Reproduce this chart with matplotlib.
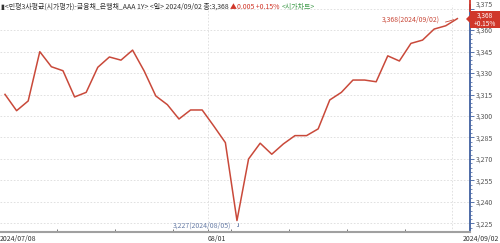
import matplotlib
matplotlib.use("Agg")
import matplotlib.pyplot as plt
from matplotlib.ticker import FixedLocator

plt.rcParams['font.family'] = ['Noto Sans CJK KR', 'DejaVu Sans']

values = [3315.1, 3303.7, 3310.5, 3344.9, 3334.4, 3331.6, 3313.3, 3316.5, 3334.0, 3341.2,
          3339.0, 3346.0, 3331.4, 3314.0, 3307.9, 3297.9, 3304.2, 3304.2, 3293.0, 3281.4,
          3227.0, 3270.0, 3281.0, 3273.3, 3280.5, 3286.3, 3286.3, 3291.0, 3311.2, 3316.5,
          3325.1, 3325.1, 3323.9, 3342.0, 3338.4, 3350.7, 3353.0, 3360.7, 3363.0, 3368.0]
yticks = [3225, 3240, 3255, 3270, 3285, 3300, 3315, 3330, 3345, 3360, 3375]
ytick_labels = ["3,225", "3,240", "3,255", "3,270", "3,285", "3,300", "3,315", "3,330", "3,345", "3,360", "3,375"]
month_pos = [17.5, 38.5]
minor_x = [4.5, 9.5, 14.5, 19.5, 24.5, 29.5, 34.5]
x_labels = ["2024/07/08", "08/01", "2024/09/02"]
low_label = "3,227(2024/08/05)"
high_label = "3,368(2024/09/02)"
low_idx, high_idx = 20, 39

fig = plt.figure(figsize=(5, 2.43), dpi=100)
ax = fig.add_axes([0.0, 11/243, 0.94, 227/243])
n = len(values)
xs = list(range(n))
ax.set_xlim(-0.43, 40.09)
ax.set_ylim(3219.0, 3377.5)

line_color = '#c9493a'
ax.plot(xs, values, color=line_color, lw=1.1, zorder=3)

# grid
for t in yticks:
    ax.axhline(t, color='#dcdcdc', lw=0.6, ls=(0, (2, 2)), zorder=1)
for m in month_pos:
    ax.axvline(m, color='#dcdcdc', lw=0.6, ls=(0, (2, 2)), zorder=1)

# spines
for s in ['top', 'left']:
    ax.spines[s].set_visible(False)
ax.spines['bottom'].set_color('#a0a0a0')
ax.spines['bottom'].set_linewidth(1.5)
ax.spines['right'].set_color('#3f5f9f')
ax.spines['right'].set_linewidth(1.3)

ax.yaxis.tick_right()
ax.set_yticks(yticks)
ax.set_yticklabels(ytick_labels)
ax.yaxis.set_minor_locator(FixedLocator([v for v in range(3222, 3378, 3)]))
ax.tick_params(axis='y', which='major', length=3, width=0.6, color='#3f5f9f',
               labelsize=5, labelcolor='#555555', pad=1.5, direction='out')
ax.tick_params(axis='y', which='minor', length=1.5, width=0.5, color='#3f5f9f', direction='out')
for lbl in ax.get_yticklabels():
    if lbl.get_text() == "3,375":
        lbl.set_va('bottom')

ax.set_xticks([])
ax.xaxis.set_minor_locator(FixedLocator(minor_x + month_pos[:1]))
ax.tick_params(axis='x', which='minor', length=2.5, width=0.7, color='#777777', direction='in')

# x labels
ax.text(-0.43, -0.012, x_labels[0], transform=ax.get_xaxis_transform(), ha='left', va='top',
        fontsize=5, color='#333333')
ax.text(month_pos[0], -0.012, x_labels[1], transform=ax.get_xaxis_transform(), ha='left', va='top',
        fontsize=5, color='#333333')
fig.text(0.998, 0.0, x_labels[2], ha='right', va='bottom', fontsize=5, color='#333333')

# annotations
lo_v = values[low_idx]
ax.annotate(low_label, xy=(low_idx + 0.05, lo_v + 0.5), xytext=(low_idx - 0.5, lo_v - 3.8),
            ha='right', va='center', fontsize=5, color='#6a7fa8',
            arrowprops=dict(arrowstyle='-', color='#6a7fa8', lw=0.6,
                            connectionstyle='angle,angleA=0,angleB=90,rad=0'))
hi_v = values[high_idx]
ax.annotate(high_label, xy=(high_idx - 0.1, hi_v), xytext=(high_idx - 1.5, hi_v - 0.5),
            ha='right', va='center', fontsize=5, color='#c9493a',
            arrowprops=dict(arrowstyle='-', color='#c9493a', lw=0.6,
                            connectionstyle='arc3,rad=0.2'))

# current price box on right axis
box_top, box_bot = 11, 28
fig.add_artist(plt.Rectangle((470/500, (243-box_bot)/243), 30/500, (box_bot-box_top)/243,
                             transform=fig.transFigure, facecolor='#d0372a', edgecolor='none', zorder=5))
fig.add_artist(plt.Polygon([(466/500, (243-19)/243), (471/500, (243-14)/243), (471/500, (243-24)/243)],
                           closed=True, transform=fig.transFigure, facecolor='#d0372a',
                           edgecolor='none', zorder=5))
fig.add_artist(plt.Line2D([470/500, 470/500], [1.0, (243-11)/243], transform=fig.transFigure,
                          color='#d0372a', lw=1.3, zorder=6))
fig.text(485/500, (243-15.5)/243, "3,368", ha='center', va='center', fontsize=4.7, color='white', zorder=7)
fig.text(485/500, (243-23.5)/243, "+0.15%", ha='center', va='center', fontsize=4.7, color='white', zorder=7)

# title, chained pieces
pieces = [("▮<민평3사평균(시가평가)-금융채_은행채_AAA 1Y> <일> 2024/09/02 종:3,368 ", '#333333'),
          ("▲0.005 +0.15% ", '#d0372a'),
          ("<시가차트>", '#3f9a4a')]
fig.canvas.draw()
renderer = fig.canvas.get_renderer()
xpix = 1.0
for txt, col in pieces:
    t = fig.text(xpix / 500, 1 - 7 / 243, txt, ha='left', va='center', fontsize=5, color=col)
    bb = t.get_window_extent(renderer=renderer)
    xpix += bb.width

fig.savefig("out.png", dpi=100, facecolor='white')
